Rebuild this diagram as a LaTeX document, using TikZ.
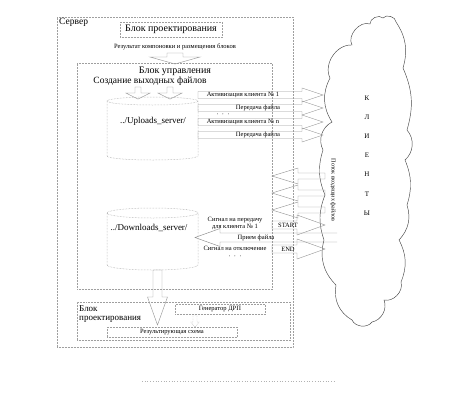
\documentclass[tikz,border=0pt]{standalone}
\usepackage{fontspec}
\setmainfont{Liberation Serif}
% right/left block arrow: x1 (tail), x2 (tip), y, shaft half, head half, head length (negative = points left)
\newcommand\HA[7][]{\draw[barrow,#1] (#2,{#4-#5}) -- ({#3-#7},{#4-#5}) -- ({#3-#7},{#4-#6}) -- (#3,#4) -- ({#3-#7},{#4+#6}) -- ({#3-#7},{#4+#5}) -- (#2,{#4+#5}) -- cycle;}
% down block arrow: y1 (tail), y2 (tip), x, shaft half, head half, head length
\newcommand\VA[7][]{\draw[barrow,#1] ({#4-#5},#2) -- ({#4-#5},{#3-#7}) -- ({#4-#6},{#3-#7}) -- (#4,#3) -- ({#4+#6},{#3-#7}) -- ({#4+#5},{#3-#7}) -- ({#4+#5},#2) -- cycle;}
% cylinder: x1 x2 ytop ybot ry
\newcommand\cyl[5]{%
\pgfmathsetmacro\rx{(#2-#1)/2}%
\draw[boxline] ({(#1+#2)/2},#3) ellipse [x radius=\rx pt, y radius=#5pt];
\draw[boxline] (#1,#3) -- (#1,#4) arc[start angle=180,end angle=360,x radius=\rx pt,y radius=#5pt] -- (#2,#3);}
\begin{document}
\begin{tikzpicture}[x=1pt,y=-1pt,
 boxline/.style={draw=gray!75, densely dotted, line width=0.5pt},
 box/.style={boxline, inner sep=0pt},
 barrow/.style={draw=gray!80, line width=0.45pt},
 cloudline/.style={draw=gray!55!black, line width=0.45pt},
 lbl/.style={inner sep=0pt, font=\fontsize{6.5}{7}\selectfont},
 big/.style={inner sep=0pt, font=\fontsize{10}{10}\selectfont},
 letter/.style={inner sep=0pt, font=\fontsize{7}{7}\selectfont}]
\useasboundingbox (0,0) rectangle (476,405);

% cloud
\coordinate (cloud) at (366,168);
\draw[cloudline] (330,78) to[bend left=60] (352,45) to[bend left=70] (370,24) to[bend left=70] (383,18)
  to[bend left=70] (396,22) to[bend left=25] (403,68) to[bend left=20] (407,130) to[bend left=45] (405,160)
  to[bend left=20] (407,205) to[bend left=30] (399,240) to[bend left=25] (401,282) to[bend left=60] (384,300)
  to[bend left=50] (372,322) to[bend left=60] (352,320) to[bend left=35] (336,285) to[bend left=30] (324,240)
  to[bend left=20] (325,195) to[bend left=20] (323,150) to[bend left=45] (332,122) to[bend left=30] (330,78) -- cycle;
\foreach \l/\yy [count=\i] in {К/98,Л/117,И/136,Е/155,Н/174,Т/194,Ы/213}
  \node[letter] (cl\i) at (367,\yy) {\l};
\node[lbl, font=\fontsize{6}{6}\selectfont, rotate=-90] (flow) at (333,190) {Поток входящих файлов};

% boxes
\node[box, minimum width=236pt, minimum height=330pt] (server) at (175,182) {};
\node[big, anchor=west, font=\fontsize{9.5}{10}\selectfont] (serverlbl) at (59,22) {Сервер};
\node[box, minimum width=102pt, minimum height=15pt] (design) at (171,29.5) {};
\node[big] (designlbl) at (171,29) {Блок проектирования};
\node[lbl] (res1) at (175,47) {Результат компоновки и размещения блоков};
\node[box, minimum width=195pt, minimum height=226pt] (ctrl) at (174.5,176) {};
\node[big] (ctrllbl) at (175,71) {Блок управления};
\node[big, font=\fontsize{9.5}{10}\selectfont] (create) at (150,81) {Создание выходных файлов};

% bottom design block
\node[box, minimum width=213pt, minimum height=38pt] (design2) at (183.5,321) {};
\node[big, anchor=west, align=left, font=\fontsize{9}{8.6}\selectfont] (d2) at (79,314) {Блок\\проектирования};
\node[box, minimum width=90pt, minimum height=10pt] (gen) at (220,309) {};
\node[lbl] (genlbl) at (220,309) {Генератор ДРП};
\node[box, minimum width=130pt, minimum height=10pt] (result) at (172,332) {};
\node[lbl] (resultlbl) at (172,332) {Результирующая схема};

% cylinders
\cyl{107}{198}{101}{156}{4}
\node[big, font=\fontsize{9}{9}\selectfont] (upl) at (153,121) {../Uploads\_server/};
\cyl{107}{198}{213}{265}{5}
\node[big, font=\fontsize{9}{9}\selectfont] (dnl) at (149,228) {../Downloads\_server/};

% down arrows
\VA{53}{64}{175}{8}{25}{7}
\VA{87}{99}{138}{3}{12}{6}
\VA{87}{99}{170}{3}{12}{6}
\VA{270}{325}{157.5}{4.5}{10}{28}
\VA[densely dotted]{315}{327}{195}{2}{4}{5}

% outgoing arrows
\HA{198}{323}{95}{3.5}{7}{21}
\HA{198}{323}{108}{3.5}{7}{21}
\HA{198}{323}{122}{3.5}{7}{21}
\HA{198}{323}{135}{3.5}{7}{21}
\node[lbl] (a1) at (243,95) {Активизация клиента № 1};
\node[lbl] (p1) at (258,108) {Передача файла};
\node[lbl] (dots1) at (223,115) {·\ \ ·\ \ ·};
\node[lbl] (an) at (243,122) {Активизация клиента № n};
\node[lbl] (p2) at (258,135) {Передача файла};

% incoming arrows
\HA{325}{272}{176}{3}{8}{-26}
\HA{325}{272}{193}{3}{8}{-26}
\HA{325}{272}{210}{3}{8}{-26}

% START / END
\HA{272}{325}{225}{4}{10}{28}
\node[lbl] (start) at (288,225) {START};
\HA{272}{325}{249}{4}{10}{28}
\node[lbl] (end) at (288,249) {END};

% receive file
\draw[barrow, draw=gray!90] (337,233) -- (220,233) -- (220,228.5) -- (195,237.5) -- (220,246.5) -- (220,242) -- (337,242);
\node[lbl] (recv) at (256,237.5) {Прием файла};
\node[lbl, align=center] (sig1) at (235,223.5) {Сигнал на передачу\\для клиента № 1};
\node[lbl] (sig2) at (235,248) {Сигнал на отключение};
\node[lbl] (dots2) at (235,257) {·\ \ ·\ \ ·};

% caption (illegible in reference)
\draw[gray!60, dotted, line width=0.7pt] (142,381) -- (336,381);
\end{tikzpicture}
\end{document}
